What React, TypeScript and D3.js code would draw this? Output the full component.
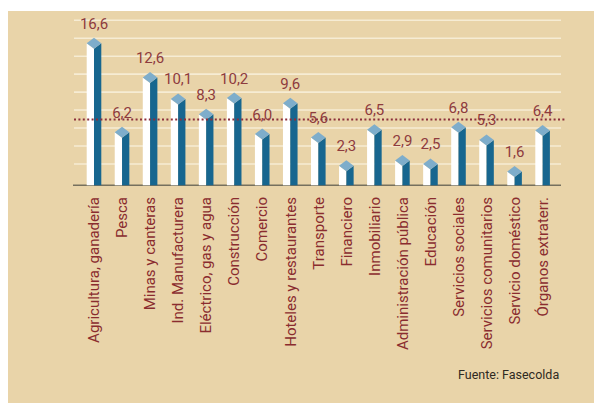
import React from 'react';
import * as d3 from 'd3';

// sectores y valores
const sectores = [
  'Agricultura, ganadería', 'Pesca', 'Minas y canteras', 'Ind. Manufacturera',
  'Eléctrico, gas y agua', 'Construcción', 'Comercio', 'Hoteles y restaurantes',
  'Transporte', 'Financiero', 'Inmobiliario', 'Administración pública',
  'Educación', 'Servicios sociales', 'Servicios comunitarios',
  'Servicio doméstico', 'Órganos extraterr.'
];
const valores = [16.6, 6.2, 12.6, 10.1, 8.3, 10.2, 6.0, 9.6, 5.6, 2.3, 6.5, 2.9, 2.5, 6.8, 5.3, 1.6, 6.4];
const lineasGuia = [2.5, 4.6, 6.7, 8.8, 10.9, 13.0, 15.1, 17.2, 19.3];
const promedio = 7.7;
const fuente = 'Fuente: Fasecolda';

const W = 594;
const H = 404;

export default function App() {
  const y = d3.scaleLinear().domain([0, 20]).range([185.3, 14.3]);
  const x = d3.scalePoint<string>().domain(sectores).range([94, 542.6]);
  const half = 7.3; // media anchura de la columna
  const dh = 5.5; // media altura del rombo
  const fmt = (v: number) => d3.format('.1f')(v).replace('.', ',');

  return (
    <svg width={W} height={H} style={{ position: 'absolute', left: 0, top: 0 }}>
      <rect x={0} y={0} width={W} height={H} fill="#ffffff" />
      <rect x={8} y={11} width={W - 8} height={392} fill="#e9d4a9" />

      {lineasGuia.map((g, i) => (
        <line key={i} x1={74} x2={561} y1={y(g)} y2={y(g)} stroke="#f6ecd4" strokeWidth={1.6} />
      ))}
      <line x1={73} x2={561} y1={y(0)} y2={y(0)} stroke="#76705e" strokeWidth={1.5} />

      {valores.map((v, i) => {
        const cx = x(sectores[i]) as number;
        const yt = y(v);
        const y0 = y(0);
        return (
          <g key={i}>
            <polygon
              points={`${cx - half},${yt} ${cx},${yt + dh} ${cx},${y0} ${cx - half},${y0}`}
              fill="#ffffff"
            />
            <polygon
              points={`${cx},${yt + dh} ${cx + half},${yt} ${cx + half},${y0} ${cx},${y0}`}
              fill="#17668f"
            />
            <polygon
              points={`${cx},${yt - dh} ${cx + half},${yt} ${cx},${yt + dh} ${cx - half},${yt}`}
              fill="#7eadcb"
            />
            <text
              x={cx}
              y={yt - 14.5}
              textAnchor="middle"
              fontFamily="Roboto, sans-serif"
              fontSize={15}
              fill="#8e3b3e"
            >
              {fmt(v)}
            </text>
          </g>
        );
      })}

      <line
        x1={74}
        x2={566}
        y1={y(promedio)}
        y2={y(promedio)}
        stroke="#8c2f3b"
        strokeWidth={2}
        strokeDasharray="2,2.4"
      />

      {sectores.map((s, i) => (
        <text
          key={i}
          transform={`translate(${x(s)},197) rotate(-90)`}
          textAnchor="end"
          dy="0.35em"
          fontFamily="Roboto, sans-serif"
          fontSize={15}
          fill="#8a2c2f"
        >
          {s}
        </text>
      ))}

      <text x={458} y={379} fontFamily="Roboto, sans-serif" fontSize={12.5} fill="#2f2a22">
        {fuente}
      </text>
    </svg>
  );
}
